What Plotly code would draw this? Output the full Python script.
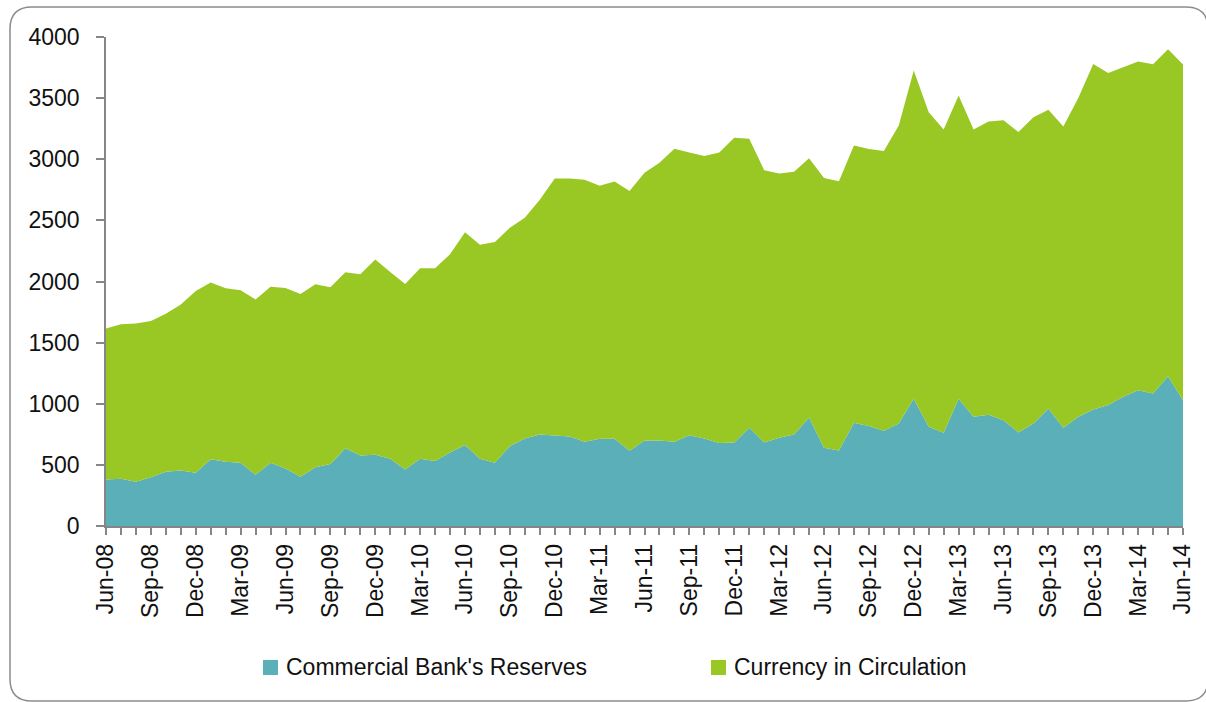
import plotly.graph_objects as go

# Monthly observations, Jun-2008 .. Jun-2014
MONTH_NAMES = ["Jan", "Feb", "Mar", "Apr", "May", "Jun",
               "Jul", "Aug", "Sep", "Oct", "Nov", "Dec"]
START_YEAR, START_MONTH, N_MONTHS = 2008, 6, 73

months = []
for i in range(N_MONTHS):
    m = (START_MONTH - 1 + i) % 12
    yr = START_YEAR + (START_MONTH - 1 + i) // 12
    months.append(f"{MONTH_NAMES[m]}-{yr % 100:02d}")

# Labelled every quarter
tick_labels = [lab if i % 3 == 0 else "" for i, lab in enumerate(months)]

reserves = [381, 387, 362, 398, 444, 455, 436, 545, 526, 517, 419, 517, 471,
            403, 480, 507, 635, 577, 583, 550, 463, 550, 531, 602, 662, 550,
            517, 654, 716, 749, 741, 733, 689, 713, 713, 615, 700, 700, 689,
            743, 716, 678, 684, 803, 684, 722, 749, 888, 640, 618, 844, 817,
            779, 839, 1040, 811, 762, 1040, 893, 909, 866, 765, 839, 961, 803,
            893, 953, 989, 1057, 1111, 1084, 1225, 1029]

currency = [1234, 1263, 1294, 1279, 1293, 1356, 1487, 1446, 1418, 1411, 1433,
            1441, 1476, 1495, 1497, 1446, 1440, 1482, 1596, 1528, 1517, 1558,
            1577, 1620, 1740, 1751, 1806, 1786, 1806, 1920, 2102, 2110, 2143,
            2070, 2106, 2125, 2190, 2271, 2396, 2313, 2310, 2378, 2492, 2364,
            2227, 2162, 2149, 2121, 2206, 2203, 2269, 2266, 2288, 2437, 2685,
            2574, 2481, 2481, 2350, 2400, 2454, 2457, 2505, 2443, 2465, 2609,
            2827, 2717, 2696, 2688, 2693, 2675, 2746]

series_names = ["Commercial Bank's Reserves", "Currency in Circulation"]

TEAL = "#5AAFB9"
GREEN = "#99C723"
AXIS = "#868686"
FONT = "Liberation Sans, Arial, sans-serif"

W, H = 1206, 702
ML, MR, MT, MB = 106, 23, 37, 176
PW, PH = W - ML - MR, H - MT - MB


def px(xp):
    return (xp - ML) / PW


def py(yp):
    return (H - MB - yp) / PH


fig = go.Figure()
fig.add_trace(go.Scatter(x=months, y=reserves, name=series_names[0],
                         stackgroup="one", mode="none", fillcolor=TEAL,
                         showlegend=False))
fig.add_trace(go.Scatter(x=months, y=currency, name=series_names[1],
                         stackgroup="one", mode="none", fillcolor=GREEN,
                         showlegend=False))

# Rounded frame around the whole chart
x0, y0, x1, y1, r = 10, 7, 1208, 701, 22
frame = (f"M {px(x0 + r)},{py(y0)} L {px(x1 - r)},{py(y0)} "
         f"Q {px(x1)},{py(y0)} {px(x1)},{py(y0 + r)} "
         f"L {px(x1)},{py(y1 - r)} Q {px(x1)},{py(y1)} {px(x1 - r)},{py(y1)} "
         f"L {px(x0 + r)},{py(y1)} Q {px(x0)},{py(y1)} {px(x0)},{py(y1 - r)} "
         f"L {px(x0)},{py(y0 + r)} Q {px(x0)},{py(y0)} {px(x0 + r)},{py(y0)} Z")

shapes = [dict(type="path", path=frame, xref="paper", yref="paper",
               line=dict(color="#8C8C8C", width=1.5), layer="above")]

# Legend keys
annotations = []
for (sx, tx), color, name in zip([(263, 284), (711, 732)], [TEAL, GREEN],
                                 series_names):
    shapes.append(dict(type="rect", xref="paper", yref="paper",
                       x0=px(sx), x1=px(sx + 15), y0=py(675), y1=py(660),
                       fillcolor=color, line=dict(width=0)))
    annotations.append(dict(text=name, xref="paper", yref="paper",
                            x=px(tx), y=py(667), xanchor="left",
                            yanchor="middle", showarrow=False,
                            font=dict(family=FONT, size=23, color="#111111")))

fig.update_layout(
    width=W, height=H,
    margin=dict(l=ML, r=MR, t=MT, b=MB),
    paper_bgcolor="white", plot_bgcolor="white",
    font=dict(family=FONT, size=23, color="#111111"),
    shapes=shapes, annotations=annotations,
    showlegend=False,
    xaxis=dict(type="category", range=[0, N_MONTHS - 1],
               tickmode="array", tickvals=months, ticktext=tick_labels,
               tickangle=-90, ticks="outside", ticklen=7, tickwidth=1.5,
               tickcolor=AXIS, showline=True, linecolor=AXIS, linewidth=1.5,
               showgrid=False, zeroline=False,
               tickfont=dict(family=FONT, size=23, color="#111111")),
    yaxis=dict(range=[0, 4000], dtick=500, tick0=0, ticks="outside",
               ticklen=8, tickwidth=1.5, tickcolor=AXIS, showline=True,
               linecolor=AXIS, linewidth=1.5, showgrid=False, zeroline=False,
               ticklabelstandoff=12,
               tickfont=dict(family=FONT, size=23, color="#111111")),
)

fig.write_html("out.html")
